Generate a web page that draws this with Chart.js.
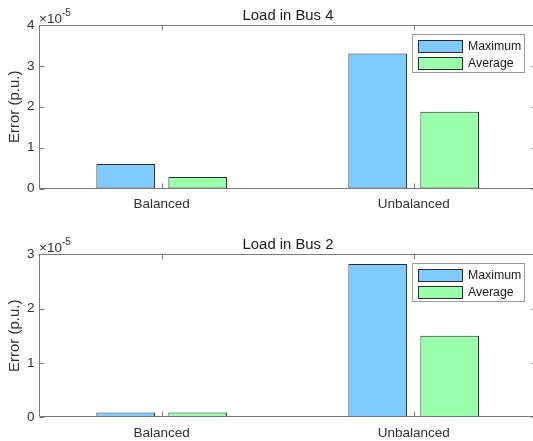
<!DOCTYPE html>
<html>
<head>
<meta charset="utf-8">
<script src="https://cdn.jsdelivr.net/npm/chart.js@4.4.1/dist/chart.umd.min.js"></script>
<style>
  html, body { margin: 0; padding: 0; background: #fff; overflow: hidden; width: 533px; height: 441px; }
  .panel { position: absolute; left: 0; }
  canvas { display: block; }
</style>
</head>
<body>
<div class="panel" style="top:0px"><canvas id="bus4" width="540" height="220"></canvas></div>
<div class="panel" style="top:220px"><canvas id="bus2" width="540" height="221"></canvas></div>
<script>
// Load-flow error per scenario, in units of 1e-5 p.u.
const categories = ['Balanced', 'Unbalanced'];
const seriesNames = ['Maximum', 'Average'];
const bus4Maximum = [0.60, 3.30];
const bus4Average = [0.28, 1.88];
const bus2Maximum = [0.09, 2.82];
const bus2Average = [0.09, 1.50];
const bus4YTicks = [0, 1, 2, 3, 4];
const bus2YTicks = [0, 1, 2, 3];
const exponentText = '-5';

const FONT = "'Liberation Sans', Arial, Helvetica, sans-serif";
const seriesColors = ['#7fcaff', '#99ffaa'];
const edgeColor = '#2b2b2b';
const frameColor = '#7a7a7a';
const textColor = '#303030';

// Box frame with inward tick marks on all four sides
const framePlugin = {
  id: 'frame',
  afterDatasetsDraw(chart) {
    const { ctx, chartArea: a, scales } = chart;
    const L = Math.round(a.left) + 0.5, R = Math.round(a.right) - 0.5;
    const T = Math.round(a.top) + 0.5, B = Math.round(a.bottom) - 0.5;
    const tl = 5;
    ctx.save();
    ctx.strokeStyle = frameColor;
    ctx.lineWidth = 1;
    ctx.beginPath();
    ctx.rect(L, T, R - L, B - T);
    scales.y.ticks.forEach(t => {
      const y = Math.round(scales.y.getPixelForValue(t.value)) + 0.5;
      ctx.moveTo(L, y); ctx.lineTo(L + tl, y);
      ctx.moveTo(R, y); ctx.lineTo(R - tl, y);
    });
    scales.x.ticks.forEach(t => {
      const x = Math.round(scales.x.getPixelForValue(t.value)) + 0.5;
      ctx.moveTo(x, B); ctx.lineTo(x, B - tl);
      ctx.moveTo(x, T); ctx.lineTo(x, T + tl);
    });
    ctx.stroke();
    ctx.restore();
  }
};

// Title, y-axis label, exponent and the boxed legend
const annotatePlugin = {
  id: 'annotate',
  afterDraw(chart, args, opts) {
    const { ctx, chartArea: a } = chart;
    ctx.save();
    // title
    ctx.fillStyle = '#1a1a1a';
    ctx.font = `14.85px ${FONT}`;
    ctx.textAlign = 'center';
    ctx.textBaseline = 'alphabetic';
    ctx.fillText(opts.title, (a.left + a.right) / 2, a.top - 5);
    // y label
    ctx.save();
    ctx.translate(19, (a.top + a.bottom) / 2);
    ctx.rotate(-Math.PI / 2);
    ctx.fillStyle = textColor;
    ctx.font = `15px ${FONT}`;
    ctx.textBaseline = 'alphabetic';
    ctx.fillText('Error (p.u.)', 0, 0);
    ctx.restore();
    // exponent
    ctx.fillStyle = textColor;
    ctx.textAlign = 'left';
    ctx.font = `13.5px ${FONT}`;
    ctx.fillText('\u00d710', a.left, a.top - 2);
    const w = ctx.measureText('\u00d710').width;
    ctx.font = `10px ${FONT}`;
    ctx.fillText(exponentText, a.left + w, a.top - 9);
    // legend
    const bx = Math.round(a.right - 125) + 0.5, by = Math.round(a.top + 9) + 0.5;
    const bw = 112, bh = 38;
    ctx.fillStyle = '#fff';
    ctx.fillRect(bx, by, bw, bh);
    ctx.strokeStyle = '#9a9a9a';
    ctx.lineWidth = 1;
    ctx.strokeRect(bx, by, bw, bh);
    chart.data.datasets.forEach((ds, i) => {
      const sy = Math.round(by + 5 + i * 17.7);
      const sx = Math.round(bx + 5);
      ctx.fillStyle = ds.backgroundColor;
      ctx.fillRect(sx, sy, 45, 12);
      ctx.strokeStyle = edgeColor;
      ctx.strokeRect(sx + 0.5, sy + 0.5, 44, 12);
      ctx.fillStyle = '#1a1a1a';
      ctx.font = `12.3px ${FONT}`;
      ctx.textBaseline = 'middle';
      ctx.fillText(ds.label, sx + 50, sy + 6.5);
    });
    ctx.restore();
  }
};

function buildPanel(id, title, maxVals, avgVals, yTicks, plotTop, plotBottom) {
  const canvas = document.getElementById(id);
  const H = canvas.height;
  const plotLeft = 39, plotRight = 537;
  const pxPerCat = 252;
  const firstCatPx = 161.7;
  const xMin = 1 - (firstCatPx - plotLeft) / pxPerCat;
  const xMax = xMin + (plotRight - plotLeft) / pxPerCat;
  const toPoints = vals => vals.map((v, i) => ({ x: i + 1, y: v }));
  return new Chart(canvas, {
    type: 'bar',
    data: {
      datasets: [
        { label: seriesNames[0], data: toPoints(maxVals), backgroundColor: seriesColors[0] },
        { label: seriesNames[1], data: toPoints(avgVals), backgroundColor: seriesColors[1] }
      ]
    },
    options: {
      responsive: false,
      animation: false,
      events: [],
      layout: { padding: { top: plotTop, left: 0, right: canvas.width - plotRight, bottom: 0 } },
      datasets: {
        bar: {
          categoryPercentage: 0.5714,
          barPercentage: 0.815,
          borderWidth: 1,
          borderColor: edgeColor,
          borderSkipped: false
        }
      },
      plugins: {
        legend: { display: false },
        title: { display: false },
        tooltip: { enabled: false },
        annotate: { title }
      },
      scales: {
        x: {
          type: 'linear',
          offset: false,
          min: xMin,
          max: xMax,
          grid: { display: false, drawTicks: false, offset: false },
          border: { display: false },
          afterDataLimits: s => { s.min = xMin; s.max = xMax; },
          afterBuildTicks: s => {
            s.ticks = categories.map((c, i) => ({ value: i + 1 }));
            s.min = xMin; s.max = xMax;
          },
          afterFit: s => { s.height = H - plotBottom; },
          ticks: {
            autoSkip: false,
            maxRotation: 0,
            padding: 7.5,
            color: textColor,
            font: { family: FONT, size: 13.5 },
            callback: v => categories[v - 1]
          }
        },
        y: {
          min: yTicks[0],
          max: yTicks[yTicks.length - 1],
          grid: { display: false, drawTicks: false },
          border: { display: false },
          afterBuildTicks: s => { s.ticks = yTicks.map(v => ({ value: v })); },
          afterFit: s => { s.width = plotLeft; },
          ticks: {
            padding: 4.5,
            color: textColor,
            font: { family: FONT, size: 13.5 },
            callback: v => String(v)
          }
        }
      }
    },
    plugins: [framePlugin, annotatePlugin]
  });
}

buildPanel('bus4', 'Load in Bus 4', bus4Maximum, bus4Average, bus4YTicks, 25, 188.5);
buildPanel('bus2', 'Load in Bus 2', bus2Maximum, bus2Average, bus2YTicks, 34.3, 197.3);
</script>
</body>
</html>
